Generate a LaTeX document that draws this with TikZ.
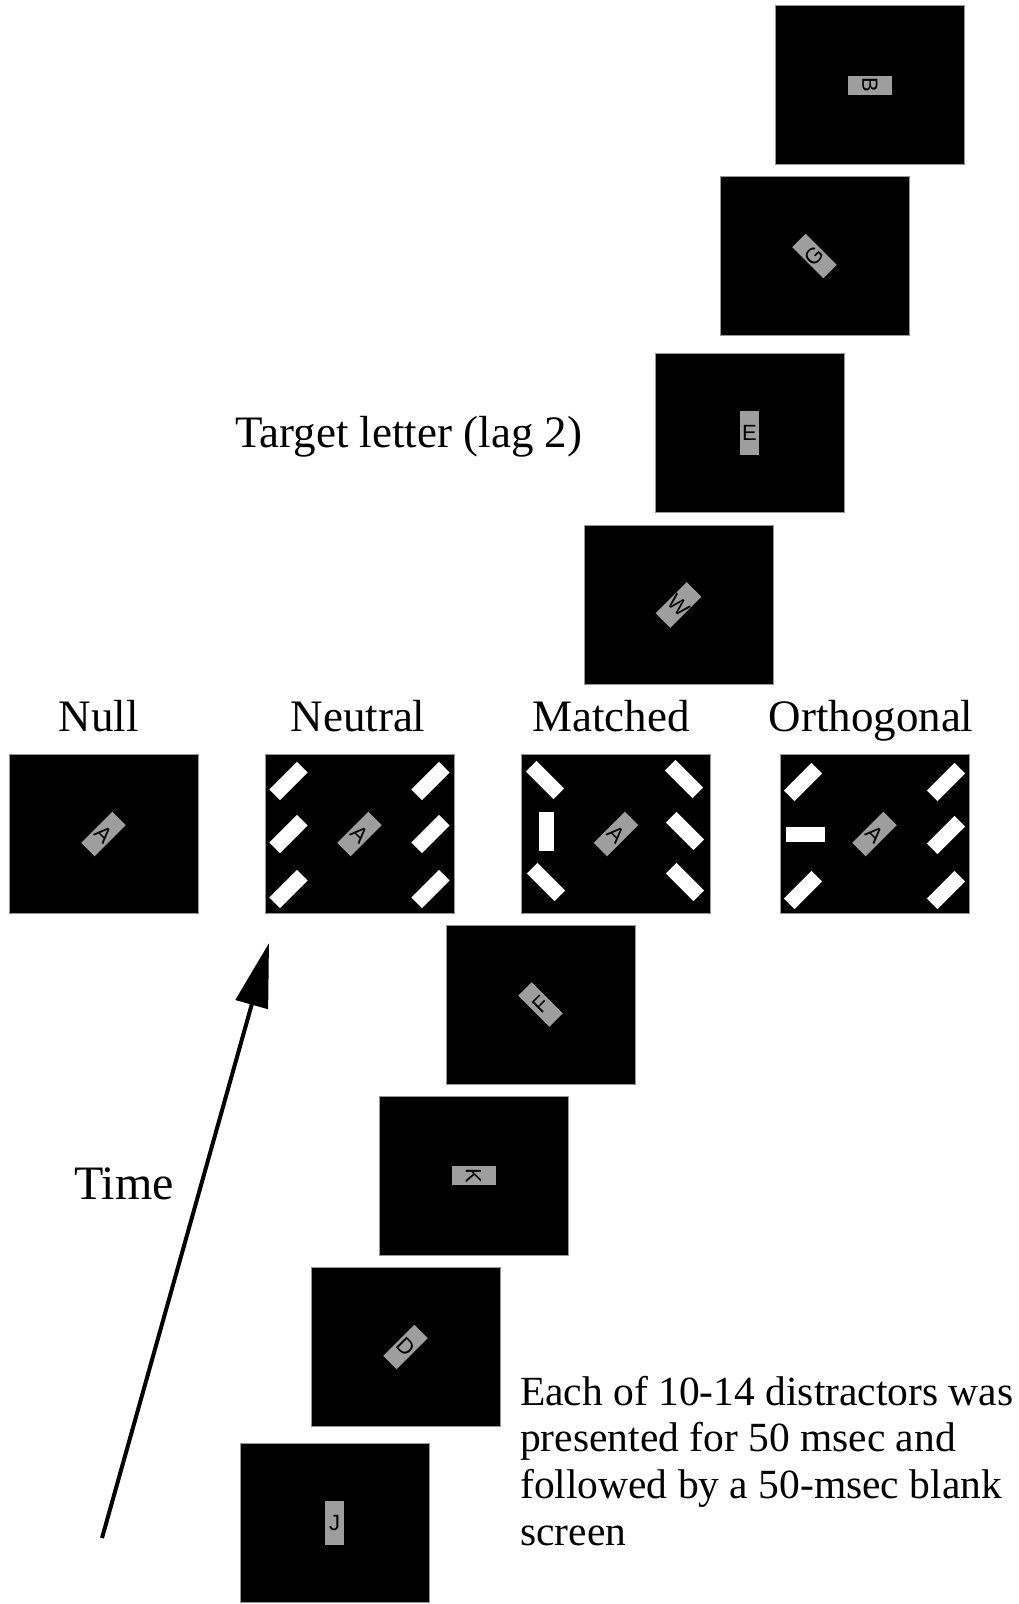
\documentclass[tikz,border=0pt]{standalone}
\usepackage{fontspec}
\setmainfont{Liberation Serif}
\newfontfamily\lettersf{Liberation Sans}
\usetikzlibrary{arrows.meta}
\definecolor{patchgray}{RGB}{158,158,158}
\definecolor{edgegray}{RGB}{150,150,150}
\begin{document}
\begin{tikzpicture}[x=1pt,y=-1pt,
  screen/.style={fill=black, draw=edgegray, line width=0.8pt, minimum width=189pt, minimum height=159pt, inner sep=0pt},
  patch/.style={fill=patchgray, minimum width=19pt, minimum height=44pt, inner sep=0pt, font=\lettersf\fontsize{22}{22}\selectfont},
  bar/.style={fill=white, minimum width=39pt, minimum height=15pt, inner sep=0pt},
  lbl/.style={font=\fontsize{45}{54}\selectfont, inner sep=0pt},
  para/.style={font=\fontsize{41.5}{47}\selectfont, inner sep=0pt, anchor=base west},
  timearrow/.style={line width=4pt, -{Triangle[length=64pt,width=33pt]}}]
\useasboundingbox (0,0) rectangle (1018,1604);
\fill[white] (0,0) rectangle (1018,1604);

% sequence of screens (top)
\node[screen] (sB) at (870,85) {};
\node[patch, rotate=-90] (pB) at (sB) {B};
\node[screen] (sG) at (814.5,256) {};
\node[patch, rotate=45] (pG) at (sG) {G};
\node[screen] (sE) at (749.5,433) {};
\node[patch] (pE) at (sE) {E};
\node[screen] (sW) at (678.5,605) {};
\node[patch, rotate=-45] (pW) at (sW) {W};

% condition screens
\node[screen] (sNull) at (103.5,834) {};
\node[patch, rotate=-45] (pNull) at (sNull) {A};

\node[screen] (sNeu) at (359.5,834) {};
\node[patch, rotate=-45] (pNeu) at (sNeu) {A};
\node[bar, rotate=45] (n1) at ([shift={(-71,-53)}]sNeu.center) {};
\node[bar, rotate=45] (n2) at ([shift={(-71,0)}]sNeu.center) {};
\node[bar, rotate=45] (n3) at ([shift={(-71,55)}]sNeu.center) {};
\node[bar, rotate=45] (n4) at ([shift={(71,-53)}]sNeu.center) {};
\node[bar, rotate=45] (n5) at ([shift={(71,0)}]sNeu.center) {};
\node[bar, rotate=45] (n6) at ([shift={(71,55)}]sNeu.center) {};

\node[screen] (sMat) at (616,834) {};
\node[patch, rotate=-45] (pMat) at (sMat) {A};
\node[bar, rotate=-45] (m1) at ([shift={(-71,-54)}]sMat.center) {};
\node[bar, rotate=90] (m2) at ([shift={(-70,-3)}]sMat.center) {};
\node[bar, rotate=-45] (m3) at ([shift={(-70,48)}]sMat.center) {};
\node[bar, rotate=-45] (m4) at ([shift={(68,-55)}]sMat.center) {};
\node[bar, rotate=-45] (m5) at ([shift={(69,-3)}]sMat.center) {};
\node[bar, rotate=-45] (m6) at ([shift={(69,48)}]sMat.center) {};

\node[screen] (sOrt) at (874.5,834) {};
\node[patch, rotate=-45] (pOrt) at (sOrt) {A};
\node[bar, rotate=45] (o1) at ([shift={(-71.5,-52)}]sOrt.center) {};
\node[bar] (o2) at ([shift={(-69.5,0)}]sOrt.center) {};
\node[bar, rotate=45] (o3) at ([shift={(-71.5,56)}]sOrt.center) {};
\node[bar, rotate=45] (o4) at ([shift={(71.5,-52)}]sOrt.center) {};
\node[bar, rotate=45] (o5) at ([shift={(71.5,1)}]sOrt.center) {};
\node[bar, rotate=45] (o6) at ([shift={(71.5,56)}]sOrt.center) {};

% sequence of screens (bottom)
\node[screen] (sF) at (540.5,1004.5) {};
\node[patch, rotate=45] (pF) at (sF) {F};
\node[screen] (sK) at (473.5,1175.5) {};
\node[patch, rotate=-90] (pK) at (sK) {K};
\node[screen] (sD) at (405.5,1347) {};
\node[patch, rotate=-45] (pD) at (sD) {D};
\node[screen] (sJ) at (334.5,1523) {};
\node[patch] (pJ) at (sJ) {J};

% labels
\node[lbl, anchor=base west] (target) at (235,447) {Target letter (lag 2)};
\node[lbl, anchor=base] (lNull) at (99,731) {Null};
\node[lbl, anchor=base] (lNeu) at (358,731) {Neutral};
\node[lbl, anchor=base] (lMat) at (611,731) {Matched};
\node[lbl, anchor=base] (lOrt) at (871,731) {Orthogonal};
\node[lbl, anchor=base west, font=\fontsize{48}{56}\selectfont] (ltime) at (74,1199) {Time};

\node[para] (p1) at (520,1405) {Each of 10-14 distractors was};
\node[para] (p2) at (520,1451) {presented for 50 msec and};
\node[para] (p3) at (520,1498) {followed by a 50-msec blank};
\node[para] (p4) at (520,1545) {screen};

% time arrow
\coordinate (tail) at (102,1538);
\coordinate (tip) at (269,943);
\draw[timearrow] (tail) -- (tip);
\end{tikzpicture}
\end{document}
